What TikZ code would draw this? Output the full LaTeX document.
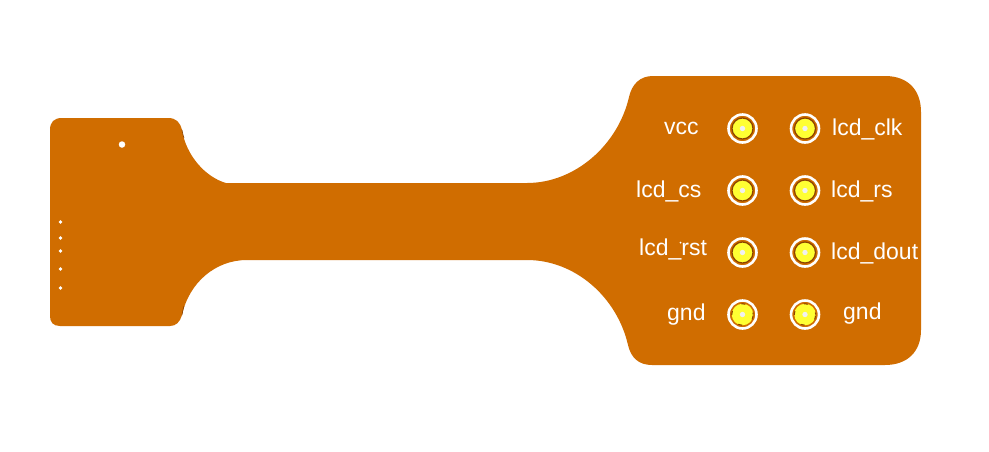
\documentclass[tikz,border=0pt]{standalone}
\usepackage{fontspec}
\setmainfont{Liberation Sans}
\definecolor{board}{HTML}{D06D00}
\definecolor{padyellow}{HTML}{FFFF33}
\definecolor{paddark}{HTML}{8A4200}
\definecolor{holegrey}{HTML}{F0F0F0}
\tikzset{
  padring/.style={circle,draw=white,line width=2.6pt,fill=board,minimum size=28pt,inner sep=0pt},
  padmetal/.style={circle,draw=paddark,line width=1.2pt,fill=padyellow,minimum size=21pt,inner sep=0pt},
  padmetalb/.style={padmetal,minimum size=21.5pt,line width=1pt,dash pattern=on 4pt off 12pt,dash phase=2pt},
  drill/.style={circle,fill=holegrey,draw=none,minimum size=5.4pt,inner sep=0pt},
  via/.style={circle,fill=white,draw=none,minimum size=3.6pt,inner sep=0pt},
  lbl/.style={text=white,font=\fontsize{23}{23}\selectfont,inner sep=0pt,anchor=base west},
  edgeline/.style={draw=paddark,line width=0.6pt},
}
\begin{document}
\begin{tikzpicture}[x=1pt,y=-1pt]
\useasboundingbox[fill=white] (0,0) rectangle (989,451);
\fill[board]
  (50,130) .. controls (50,122) and (54,118) .. (62,118)
  -- (168,118) .. controls (176,118) and (180,122) .. (182,130)
  .. controls (186,155) and (205,177) .. (226,183)
  -- (527,183)
  .. controls (575,183) and (618,145) .. (629,97)
  .. controls (632,84) and (640,76) .. (653,76)
  -- (885,76) .. controls (908,76) and (921,90) .. (921,112)
  -- (921,330) .. controls (921,352) and (907,365) .. (885,365)
  -- (652,365) .. controls (639,365) and (631,358) .. (628,345)
  .. controls (617,297) and (575,260) .. (527,260)
  -- (247,260)
  .. controls (215,260) and (189,283) .. (182,315)
  .. controls (180,322) and (176,326) .. (170,326)
  -- (60,326) .. controls (53,326) and (50,322) .. (50,316)
  -- cycle;
\draw[edgeline] (182,130) .. controls (182.5,133) and (183,135) .. (184,138);
\draw[edgeline] (184,306) .. controls (183,309) and (182.5,312) .. (182,315);
\node[circle,fill=white,minimum size=6.5pt,inner sep=0pt] (mount) at (122,144.5) {};
\foreach \n/\yy in {a/222,b/238,c/251,d/269,e/288}
  \node[via] (via\n) at (60.5,\yy) {};
\node[circle,fill=white,minimum size=2pt,inner sep=0pt] (speck) at (680.5,242.5) {};
\foreach \n/\xx/\yy/\st in {p1/742.5/128.5/padmetal,p2/805/128.5/padmetal,p3/742.5/190.5/padmetal,p4/805/190.5/padmetal,p5/742.5/252.5/padmetal,p6/805/252.5/padmetal,p7/742.5/314.5/padmetalb,p8/805/314.5/padmetalb}{
  \node[padring] (\n) at (\xx,\yy) {};
  \node[\st] (\n m) at (\xx,\yy) {};
  \node[drill] (\n h) at (\xx,\yy) {};
}
\node[lbl] (t1) at (664,134) {vcc};
\node[lbl] (t2) at (832,135) {lcd\_clk};
\node[lbl] (t3) at (636,197.5) {lcd\_cs};
\node[lbl] (t4) at (831,197) {lcd\_rs};
\node[lbl] (t5) at (639,255.5) {lcd\_rst};
\node[lbl] (t6) at (831,259) {lcd\_dout};
\node[lbl] (t7) at (667,320.5) {gnd};
\node[lbl] (t8) at (843,319.5) {gnd};
\end{tikzpicture}
\end{document}
